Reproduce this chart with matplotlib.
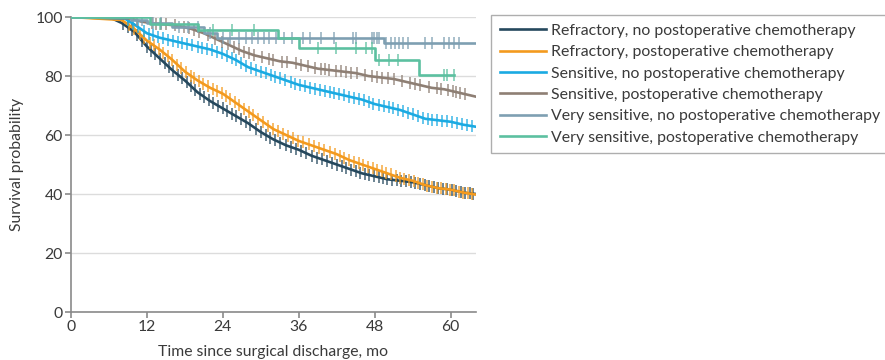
import numpy as np
import matplotlib
matplotlib.use("Agg")
import matplotlib.pyplot as plt
from matplotlib.lines import Line2D

plt.rcParams["font.family"] = ["Lato", "DejaVu Sans"]

# ---------------------------------------------------------------- data
labels = [
    "Refractory, no postoperative chemotherapy",
    "Refractory, postoperative chemotherapy",
    "Sensitive, no postoperative chemotherapy",
    "Sensitive, postoperative chemotherapy",
    "Very sensitive, no postoperative chemotherapy",
    "Very sensitive, postoperative chemotherapy",
]
colors = ["#25485D", "#F39A1E", "#1AAAE2", "#8E7F74", "#7E9FB2", "#5CC0A0"]

# refractory, no chemo (dense curve)
ref_no_t = [0, 6.5, 8, 10, 12, 14, 16, 18, 20, 22, 24, 26, 28, 30, 32, 34, 36, 38,
            40, 42, 44, 46, 48, 50, 52, 54, 56, 58, 60, 62, 64]
ref_no_s = [100, 99.5, 98, 95, 90, 86, 82, 78.5, 74.5, 71.5, 69, 66.5, 64, 61, 58.5,
            56.5, 55, 53, 51.5, 50, 48.5, 47, 46, 45, 44.5, 44, 43, 42, 41.5, 40.5, 40]
ref_no_cens = [8.3, 9.0, 9.6, 10.4, 11.2, 12.0, 12.7, 13.3, 14.1, 14.8, 15.5, 16.2,
               16.9, 17.5, 18.3, 19.0, 19.6, 20.4, 21.1, 21.8, 22.5, 23.3, 24.0, 24.6,
               25.4, 26.1, 26.9, 27.6, 28.3, 29.2, 30.0, 30.8, 31.5, 32.3, 33.1, 34.0,
               34.8, 35.5, 36.4, 37.2, 38.1, 38.9, 39.7, 40.5, 41.3, 42.0, 42.8, 43.5,
               44.3, 45.0, 45.7, 46.4, 47.1, 47.9, 48.6, 49.3, 50.0, 50.8, 51.5, 52.2,
               53.0, 53.7, 54.4, 55.1, 55.9, 56.6, 57.3, 58.0, 58.8, 59.5, 60.2, 60.9,
               61.6, 62.3, 63.0, 63.6]

# refractory, chemo
ref_ch_t = [0, 8, 10, 12, 14, 16, 18, 20, 22, 24, 26, 28, 30, 32, 34, 36, 38, 40,
            42, 44, 46, 48, 50, 52, 54, 56, 58, 60, 62, 64]
ref_ch_s = [100, 99, 96, 92, 89, 85.5, 81.5, 78.5, 76, 74, 71, 68, 65, 62, 60, 58,
            56.5, 55, 53.5, 51.5, 50, 48.5, 47, 45.5, 44.5, 43, 42, 41.5, 40.5, 39.8]
ref_ch_cens = [9.2, 10.0, 10.9, 11.6, 12.5, 13.1, 13.9, 14.6, 15.3, 16.0, 16.8, 17.4,
               18.1, 18.9, 19.5, 20.2, 20.9, 21.6, 22.4, 23.1, 23.8, 24.5, 25.2, 25.9,
               26.6, 27.4, 28.1, 28.8, 29.6, 30.4, 31.2, 31.9, 32.7, 33.5, 34.3, 35.1,
               35.9, 36.7, 37.6, 38.4, 39.2, 40.0, 40.9, 41.7, 42.5, 43.2, 44.0, 44.8,
               45.5, 46.2, 47.0, 47.7, 48.4, 49.1, 49.8, 50.5, 51.3, 52.0, 52.7, 53.4,
               54.2, 54.9, 55.6, 56.3, 57.0, 57.8, 58.5, 59.2, 59.9, 60.6, 61.3, 62.0,
               62.7, 63.4]

# sensitive, no chemo
sen_no_t = [0, 8.5, 10, 11, 12, 14, 16, 18, 20, 22, 24, 26, 28, 30, 32, 34, 36, 38,
            40, 42, 44, 46, 48, 50, 52, 54, 56, 58, 60, 62, 64]
sen_no_s = [100, 99.5, 97.5, 96, 94.5, 93, 92, 91, 90, 89, 87.5, 85.5, 83, 81.5, 80,
            78.5, 77, 76, 75, 74, 73, 72, 70.5, 69.5, 68.5, 67, 65.5, 65, 64.5, 63.5, 62.8]
sen_no_cens = [9.0, 9.8, 10.6, 11.5, 12.3, 13.0, 13.8, 14.5, 15.3, 16.1, 16.9, 17.6,
               18.4, 19.2, 20.0, 20.7, 21.5, 22.3, 23.0, 23.8, 24.6, 25.4, 26.1, 26.9,
               27.7, 28.5, 29.2, 30.0, 30.8, 31.6, 32.3, 33.1, 33.9, 34.7, 35.4, 36.2,
               37.0, 37.8, 38.5, 39.3, 40.1, 40.9, 41.6, 42.4, 43.2, 44.0, 44.7, 45.5,
               46.3, 47.1, 47.8, 48.6, 49.4, 50.2, 50.9, 51.7, 52.5, 53.3, 54.0, 54.8,
               55.6, 56.4, 57.1, 57.9, 58.7, 59.5, 60.2, 61.0, 61.8, 62.6, 63.3]

# sensitive, chemo
sen_ch_t = [0, 9.5, 11, 13, 15, 17, 19, 21, 23, 25, 27, 29, 31, 33, 35, 37, 39, 41,
            43, 45, 47, 49, 51, 53, 55, 57, 59, 61, 63, 64]
sen_ch_s = [100, 99.5, 98.5, 97.8, 97.5, 97, 96, 94.5, 92.5, 90.5, 88.5, 87, 86, 85,
            84.5, 83.5, 82.5, 82, 81.5, 81, 80, 79.5, 79, 78, 77, 76, 75.5, 74.5, 73.5, 73]
sen_ch_cens = [10.5, 12.8, 13.5, 14.2, 15.0, 16.4, 17.8, 18.6, 19.4, 20.3, 21.6, 22.8,
               23.9, 24.8, 25.7, 26.5, 27.3, 28.1, 29.0, 30.2, 31.3, 32.0, 33.4, 34.1,
               35.5, 36.3, 37.4, 38.6, 39.5, 40.1, 40.8, 41.9, 42.6, 43.5, 44.3, 45.2,
               46.4, 47.5, 48.3, 49.2, 50.1, 51.0, 52.3, 53.5, 54.4, 55.2, 56.6, 57.8,
               58.5, 59.6, 60.3, 60.9, 61.5, 62.2]

# very sensitive, no chemo (few steps)
vs_no_t = [0, 9.5, 12, 16, 21, 23, 49.5, 64]
vs_no_s = [100, 99, 98, 96.5, 94.5, 93, 91.2, 91.2]
vs_no_cens = [10.5, 11.2, 13.0, 14.2, 17.0, 18.5, 20.0, 22.0, 24.0, 25.2, 26.5, 27.6,
              28.6, 29.5, 30.5, 31.3, 32.4, 33.6, 35.0, 36.6, 37.8, 39.5, 41.6, 44.6,
              45.0, 47.5, 47.9, 48.4, 48.7, 49.8, 50.5, 51.2, 51.8, 52.5, 53.3, 55.9,
              57.0, 58.9, 59.8, 60.5, 61.3]

# very sensitive, chemo
vs_ch_t = [0, 12.5, 20, 32.7, 36, 48, 55, 60.6]
vs_ch_s = [100, 97.5, 95.5, 93, 89.5, 85.4, 80.2, 80.2]
vs_ch_cens = [14.0, 22.5, 25.5, 29.0, 39.0, 41.9, 45.0, 46.7, 47.5, 48.7, 50.3,
              51.7, 58.9, 59.4, 60.5]

curves = [
    (ref_no_t, ref_no_s, ref_no_cens, "linear"),
    (ref_ch_t, ref_ch_s, ref_ch_cens, "linear"),
    (sen_no_t, sen_no_s, sen_no_cens, "linear"),
    (sen_ch_t, sen_ch_s, sen_ch_cens, "linear"),
    (vs_no_t, vs_no_s, vs_no_cens, "steps"),
    (vs_ch_t, vs_ch_s, vs_ch_cens, "steps"),
]

# ---------------------------------------------------------------- figure
fig = plt.figure(figsize=(8.85, 3.6), dpi=100)
ax = fig.add_axes([0.0802, 0.1333, 0.4576, 0.8194])

draw_order = [5, 4, 3, 2, 1, 0]
for i in draw_order:
    t, s, cens, kind = curves[i]
    t = np.array(t, float); s = np.array(s, float)
    if kind == "steps":
        ax.step(t, s, where="post", color=colors[i], lw=1.9, zorder=3 + i * 0.1)
        idx = np.searchsorted(t, cens, side="right") - 1
        ys = s[idx]
    else:
        ax.plot(t, s, color=colors[i], lw=1.9, zorder=3 + i * 0.1)
        ys = np.interp(cens, t, s)
    ax.plot(cens, ys, ls="none", marker="|", ms=8.5, mew=1.1, color=colors[i],
            alpha=0.85, zorder=3 + i * 0.1)

ax.set_xlim(0, 64)
ax.set_ylim(0, 100)
ax.set_xticks([0, 12, 24, 36, 48, 60])
ax.set_yticks([0, 20, 40, 60, 80, 100])
ax.yaxis.grid(True, color="#DCDCDC", lw=1)
ax.set_axisbelow(True)
for side in ["top", "right"]:
    ax.spines[side].set_visible(False)
for side in ["left", "bottom"]:
    ax.spines[side].set_color("#8A8A8A")
    ax.spines[side].set_linewidth(1.2)
ax.tick_params(colors="#8A8A8A", labelcolor="#3A3A3A", labelsize=11.3, length=4,
               width=1.2, pad=2)
ax.set_xlabel("Time since surgical discharge, mo", fontsize=11.3, color="#3A3A3A",
              labelpad=8)
ax.set_ylabel("Survival probability", fontsize=11.3, color="#3A3A3A", labelpad=8)

handles = [Line2D([0], [0], color=c, lw=1.9) for c in colors]
leg = fig.legend(handles, labels, loc="upper left",
                 bbox_to_anchor=(491 / 885, 1 - 15 / 360), borderaxespad=0,
                 fontsize=11.4, frameon=True, fancybox=False, handlelength=2.9,
                 handletextpad=0.35, labelspacing=0.46, borderpad=0.55,
                 labelcolor="#3A3A3A")
leg.get_frame().set_edgecolor("#9A9A9A")
leg.get_frame().set_linewidth(1.0)

fig.savefig("out.png", dpi=100)
